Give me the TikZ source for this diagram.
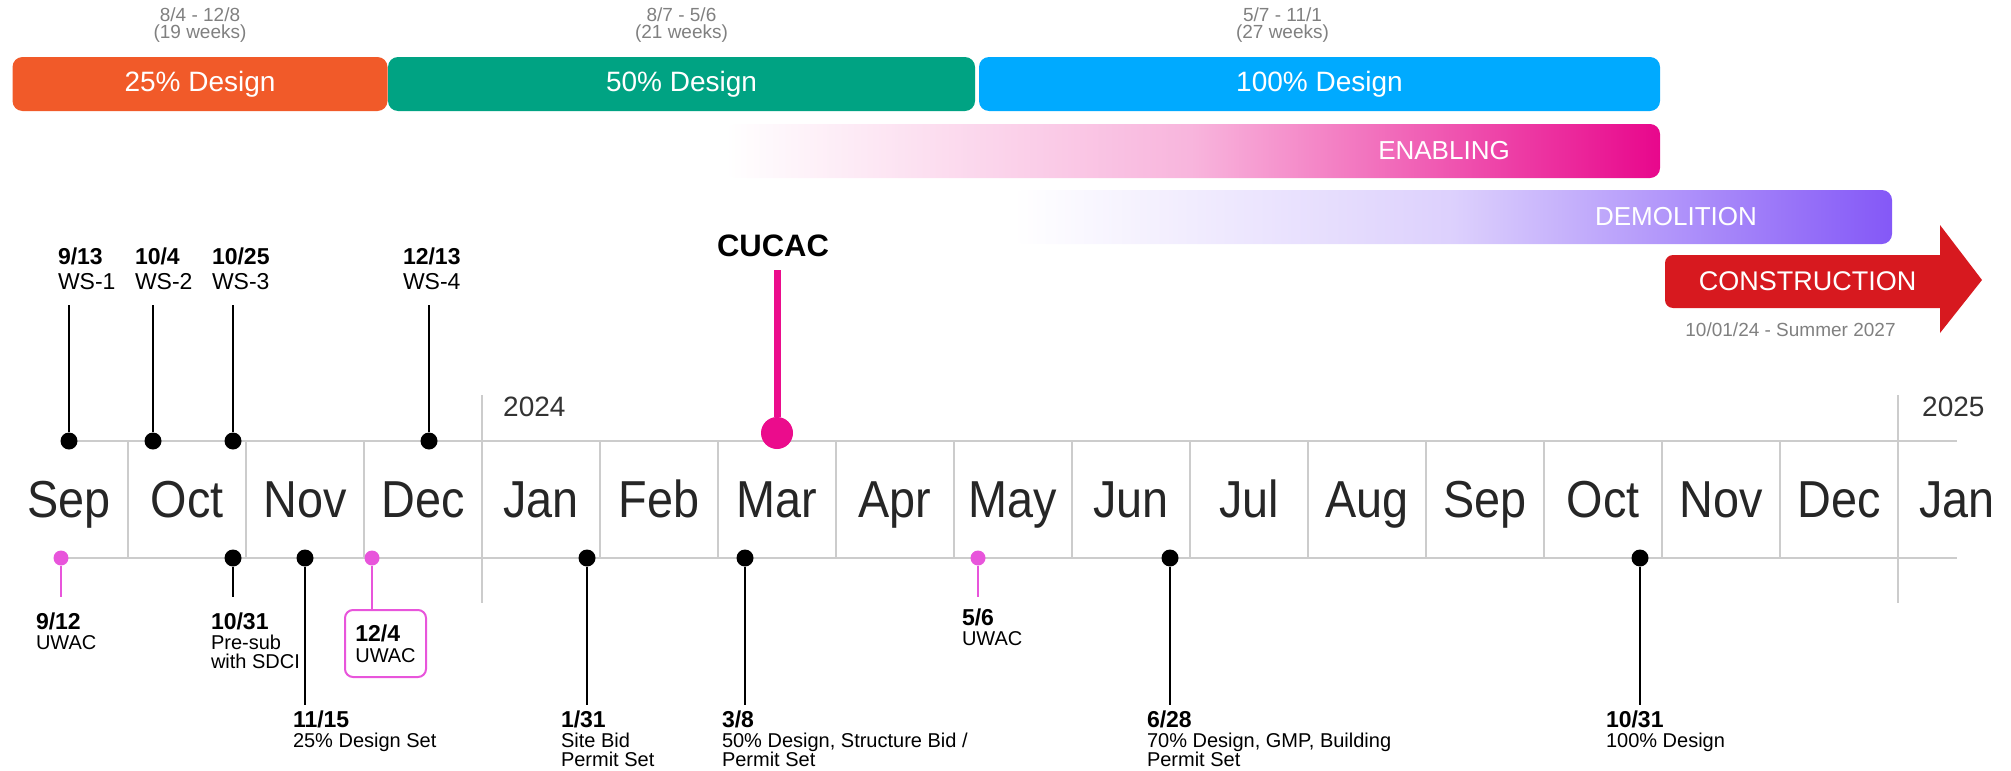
\documentclass[tikz,border=0pt]{standalone}
\usepackage{fontspec}
\setmainfont{Liberation Sans}
\newfontfamily\monthfont{Liberation Sans}[FakeStretch=0.9]
\usetikzlibrary{positioning, arrows, shapes}

\definecolor{d25}{HTML}{F15A29}
\definecolor{d50}{HTML}{00A383}
\definecolor{d100}{HTML}{00AAFF}
\definecolor{enab}{HTML}{E8078C}
\definecolor{demo}{HTML}{8458F7}
\definecolor{cons}{HTML}{D7191F}
\definecolor{cucac}{HTML}{EB0C8C}
\definecolor{uwac}{HTML}{E855DB}
\definecolor{gridgray}{HTML}{CCCCCC}

\newcommand{\msdate}[1]{{\bfseries\fontsize{23}{20}\selectfont #1}}

\begin{document}
\begin{tikzpicture}[x=1pt, y=-1pt,
    month/.style = {anchor=base, inner sep=0, text=black!85, font=\monthfont\fontsize{52}{60}\selectfont},
    year/.style = {anchor=base west, inner sep=0, text=black!80, font=\fontsize{28}{30}\selectfont},
    bar/.style = {rounded corners=10pt, minimum height=54, inner sep=0, text=white, font=\fontsize{28}{30}\selectfont},
    gbar/.style = {rounded corners=10pt, minimum height=54, inner sep=0},
    bartext/.style = {text=white, inner sep=0, font=\fontsize{26}{28}\selectfont},
    note/.style = {align=center, inner sep=0, text=black!50, font=\fontsize{19}{17}\selectfont},
    dot/.style = {circle, fill=black, minimum size=17, inner sep=0},
    pdot/.style = {circle, fill=uwac, minimum size=15, inner sep=0},
    stem/.style = {line width=2pt},
    pstem/.style = {line width=2pt, uwac},
    toplbl/.style = {anchor=south west, align=left, inner sep=0, outer xsep=0, outer ysep=15pt, font=\fontsize{23}{25}\selectfont},
    lbl/.style = {anchor=north west, align=left, inner sep=0, outer xsep=0, outer ysep=6pt, font=\fontsize{20}{19.5}\selectfont},
    uwbox/.style = {draw=uwac, line width=2pt, rounded corners=8pt, align=left, inner xsep=9, minimum width=81, minimum height=67, font=\fontsize{20}{21}\selectfont},
    gridln/.style = {gridgray, line width=2pt}]

    \useasboundingbox (0,0) rectangle (2011,771);

    \node[bar, fill=d25, minimum width=375] (d25bar) at (200,84) {25\% Design};
    \node[bar, fill=d50, minimum width=587] (d50bar) at (681.5,84) {50\% Design};
    \node[bar, fill=d100, minimum width=681] (d100bar) at (1319.5,84) {100\% Design};
    \node[note, above=14pt of d25bar] (d25note) {8/4 - 12/8\\(19 weeks)};
    \node[note, above=14pt of d50bar] (d50note) {8/7 - 5/6\\(21 weeks)};
    \node[note, above=14pt of d100bar, xshift=-37pt] (d100note) {5/7 - 11/1\\(27 weeks)};

    \node[gbar, left color=white, right color=enab, middle color=enab!30, minimum width=935] (enbar) at (1192.5,151) {};
    \node[bartext] (entext) at (1444,151) {ENABLING};
    \node[gbar, left color=white, right color=demo, middle color=demo!28, minimum width=879] (debar) at (1452.5,217) {};
    \node[bartext] (detext) at (1676,217) {DEMOLITION};

    \node[bar, fill=cons, rounded corners=8pt, minimum width=285, minimum height=53, font=\fontsize{27}{28}\selectfont] (conbar) at (1807.5,281.5) {CONSTRUCTION};
    \fill[cons] (1940,225) -- (1982,280) -- (1940,333) -- cycle;
    \node[note, below=14pt of conbar, xshift=-17pt] (connote) {10/01/24 - Summer 2027};

    \draw[gridln] (69,441) -- (1957,441);
    \draw[gridln] (61,558) -- (1957,558);
    \foreach \i in {1,2,3,5,6,7,8,9,10,11,12,13,14,15}
      \draw[gridln] (10+118*\i,441) -- (10+118*\i,558);
    \draw[gridln] (482,395) -- (482,603);
    \draw[gridln] (1898,395) -- (1898,603);
    \foreach \m [count=\i from 0] in {Sep,Oct,Nov,Dec,Jan,Feb,Mar,Apr,May,Jun,Jul,Aug,Sep,Oct,Nov,Dec,Jan}
      \node[month] (m\i) at (69+118*\i,517) {\m};
    \node[year] (y24) at (503,416) {2024};
    \node[year] (y25) at (1922,416) {2025};

    \node[dot] (ws1) at (69,441) {};
    \node[dot] (ws2) at (153,441) {};
    \node[dot] (ws3) at (233,441) {};
    \node[dot] (ws4) at (429,441) {};
    \node[toplbl] (ws1l) at (58,305) {\textbf{9/13}\\WS-1};
    \node[toplbl] (ws2l) at (135,305) {\textbf{10/4}\\WS-2};
    \node[toplbl] (ws3l) at (212,305) {\textbf{10/25}\\WS-3};
    \node[toplbl] (ws4l) at (403,305) {\textbf{12/13}\\WS-4};
    \draw[stem] (ws1) -- (ws1 |- ws1l.south);
    \draw[stem] (ws2) -- (ws2 |- ws2l.south);
    \draw[stem] (ws3) -- (ws3 |- ws3l.south);
    \draw[stem] (ws4) -- (ws4 |- ws4l.south);

    \node[dot, fill=cucac, minimum size=32] (cuc) at (777,433) {};
    \node[anchor=south, inner sep=0, outer ysep=13pt, font=\bfseries\fontsize{31}{34}\selectfont] (cucl) at (773,270) {CUCAC};
    \draw[line width=7pt, cucac] (cuc) -- (cuc |- cucl.south);

    \node[pdot] (uw1) at (61,558) {};
    \node[dot] (ms1) at (233,558) {};
    \node[dot] (ms2) at (305,558) {};
    \node[pdot] (uw2) at (372,558) {};
    \node[dot] (ms3) at (587,558) {};
    \node[dot] (ms4) at (745,558) {};
    \node[pdot] (uw3) at (978,558) {};
    \node[dot] (ms5) at (1170,558) {};
    \node[dot] (ms6) at (1640,558) {};

    \node[lbl, outer ysep=16pt] (uw1l) at (36,597) {\msdate{9/12}\\UWAC};
    \node[lbl, outer ysep=16pt] (ms1l) at (211,597) {\msdate{10/31}\\Pre-sub\\with SDCI};
    \node[lbl] (ms2l) at (293,705) {\msdate{11/15}\\25\% Design Set};
    \node[uwbox, anchor=north] (uw2l) at (385.5,609) {\msdate{12/4}\\UWAC};
    \node[lbl] (ms3l) at (561,705) {\msdate{1/31}\\Site Bid\\Permit Set};
    \node[lbl] (ms4l) at (722,705) {\msdate{3/8}\\50\% Design, Structure Bid /\\Permit Set};
    \node[lbl, outer ysep=12pt] (uw3l) at (962,597) {\msdate{5/6}\\UWAC};
    \node[lbl] (ms5l) at (1147,705) {\msdate{6/28}\\70\% Design, GMP, Building\\Permit Set};
    \node[lbl] (ms6l) at (1606,705) {\msdate{10/31}\\100\% Design};

    \draw[pstem] (uw1) -- (uw1 |- uw1l.north);
    \draw[stem] (ms1) -- (ms1 |- ms1l.north);
    \draw[stem] (ms2) -- (ms2 |- ms2l.north);
    \draw[pstem] (uw2) -- (uw2 |- uw2l.north);
    \draw[stem] (ms3) -- (ms3 |- ms3l.north);
    \draw[stem] (ms4) -- (ms4 |- ms4l.north);
    \draw[pstem] (uw3) -- (uw3 |- uw3l.north);
    \draw[stem] (ms5) -- (ms5 |- ms5l.north);
    \draw[stem] (ms6) -- (ms6 |- ms6l.north);
\end{tikzpicture}
\end{document}
